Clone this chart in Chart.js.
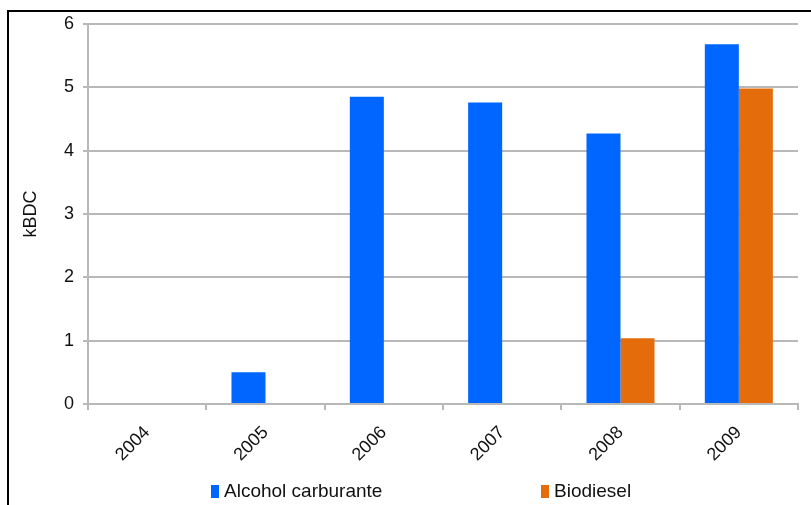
<!DOCTYPE html>
<html>
<head>
<meta charset="utf-8">
<script src="https://cdn.jsdelivr.net/npm/chart.js@4/dist/chart.umd.min.js"></script>
<style>
  html, body { margin: 0; padding: 0; background: #fff; overflow: hidden; }
  #wrap { position: relative; width: 811px; height: 505px; }
  #frame { position: absolute; left: 7px; top: 10px; width: 900px; height: 600px;
           border-left: 2px solid #000; border-top: 2px solid #000; }
  #c { position: absolute; left: 0; top: 0; }
</style>
</head>
<body>
<div id="wrap">
  <div id="frame"></div>
  <canvas id="c" width="811" height="505"></canvas>
</div>
<script>
// Production by year, kBDC
const years = ['2004', '2005', '2006', '2007', '2008', '2009'];
const alcoholCarburante = [0, 0.5, 4.85, 4.76, 4.27, 5.68];
const biodiesel = [0, 0, 0, 0, 1.04, 4.98];
const yTicks = [0, 1, 2, 3, 4, 5, 6];

const FONT = "'Liberation Sans', Arial, sans-serif";
const GRID = '#b8b8b8';

// Legend row drawn under the axis, one swatch + label per series
const seriesLegend = {
  id: 'seriesLegend',
  afterDraw(chart, args, opts) {
    const ctx = chart.ctx;
    ctx.save();
    ctx.font = opts.font;
    ctx.textBaseline = 'middle';
    ctx.textAlign = 'left';
    chart.data.datasets.forEach((ds, i) => {
      const x = opts.x[i];
      ctx.fillStyle = ds.backgroundColor;
      ctx.fillRect(x, opts.y - opts.boxHeight / 2, opts.boxWidth, opts.boxHeight);
      ctx.fillStyle = opts.color;
      ctx.fillText(ds.label, x + opts.boxWidth + opts.gap, opts.y);
    });
    ctx.restore();
  }
};

new Chart(document.getElementById('c'), {
  type: 'bar',
  data: {
    labels: years,
    datasets: [
      { label: 'Alcohol carburante', data: alcoholCarburante, backgroundColor: '#0066ff' },
      { label: 'Biodiesel', data: biodiesel, backgroundColor: '#e46c0a' }
    ]
  },
  options: {
    responsive: false,
    animation: false,
    devicePixelRatio: 1,
    categoryPercentage: 0.575,
    barPercentage: 1.0,
    layout: { padding: { left: 7, right: 13, top: 24, bottom: 30 } },
    plugins: {
      legend: { display: false },
      tooltip: { enabled: false },
      seriesLegend: {
        x: [211, 541], y: 491.5, boxWidth: 8, boxHeight: 13, gap: 5,
        font: `19px ${FONT}`, color: '#111'
      }
    },
    scales: {
      x: {
        afterFit: s => { s.height = 71; },
        grid: { display: true, drawOnChartArea: false, drawTicks: true, tickLength: 6,
                color: GRID, lineWidth: 2, offset: true },
        border: { display: true, color: GRID, width: 2 },
        ticks: { minRotation: 45, maxRotation: 45, padding: 12, color: '#111',
                 font: { family: FONT, size: 18 } }
      },
      y: {
        min: 0, max: 6,
        afterFit: s => { s.width = 81; },
        afterBuildTicks: s => { s.ticks = yTicks.map(v => ({ value: v })); },
        grid: { color: GRID, lineWidth: 2, tickLength: 5, drawTicks: true },
        border: { display: true, color: GRID, width: 2 },
        ticks: { padding: 9, color: '#111', font: { family: FONT, size: 18 } },
        title: { display: true, text: 'kBDC', color: '#111', padding: { top: 13 },
                 font: { family: FONT, size: 18 } }
      }
    }
  },
  plugins: [seriesLegend]
});
</script>
</body>
</html>
